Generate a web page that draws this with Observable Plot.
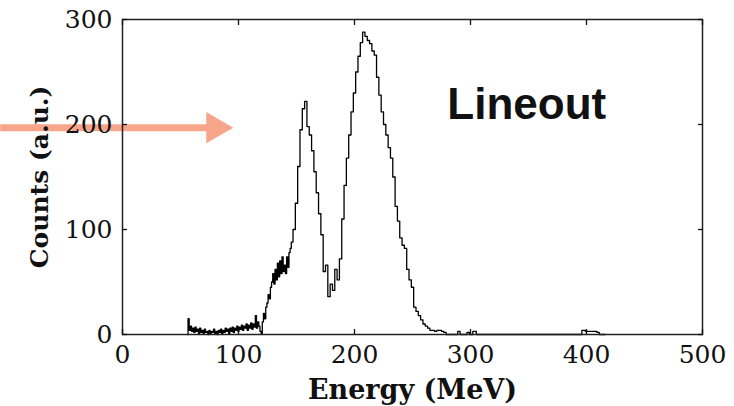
<!DOCTYPE html>
<html>
<head>
<meta charset="utf-8">
<script src="https://cdn.jsdelivr.net/npm/d3@7"></script>
<script src="https://cdn.jsdelivr.net/npm/@observablehq/plot@0.6"></script>
<style>
  html, body { margin: 0; padding: 0; background: #fff; }
</style>
</head>
<body>
<div id="chart"></div>
<script>
const energy = [
  56, 57, 58, 59, 60, 61, 62, 63, 64, 65, 66, 67, 68, 69, 70, 71, 72, 73, 74, 75,
  76, 77, 78, 79, 80, 81, 82, 83, 84, 85, 86, 87, 88, 89, 90, 91, 92, 93, 94, 95,
  96, 97, 98, 99, 100, 101, 102, 103, 104, 105, 106, 107, 108, 109, 110, 111, 112, 113, 114, 115,
  116, 117, 118, 119, 120, 121, 122, 123, 124, 125, 126, 127, 128, 129, 130, 131, 132, 133, 134, 135,
  136, 137, 138, 139, 140, 141, 142, 143, 144, 145, 146, 148, 150, 152, 154, 156, 158, 160, 162, 164,
  166, 168, 170, 172, 174, 176, 178, 180, 182, 184, 186, 188, 190, 192, 194, 196, 198, 200, 202, 204,
  206, 208, 210, 212, 214, 216, 218, 220, 222, 224, 226, 228, 230, 232, 234, 236, 238, 240, 242, 244,
  246, 248, 250, 252, 254, 256, 258, 260, 262, 264, 266, 268, 270, 272, 274, 276, 278, 280, 284, 288,
  290, 292, 296, 298, 300, 304, 306, 310, 394, 398, 400, 404, 408, 410, 412, 416
];
const counts = [
  0, 15, 4, 8, 3, 6, 2, 7, 3, 5, 1, 6, 2, 4, 1, 5, 2, 3, 0, 4,
  1, 3, 2, 5, 1, 3, 0, 4, 2, 5, 1, 4, 2, 6, 3, 5, 1, 6, 3, 7,
  2, 6, 4, 8, 3, 7, 5, 9, 4, 8, 6, 10, 4, 9, 6, 11, 5, 10, 7, 18,
  6, 12, 8, 3, 1, 12, 20, 15, 26, 30, 38, 34, 45, 50, 58, 48, 62, 52, 68, 55,
  70, 58, 74, 60, 66, 58, 74, 64, 78, 82, 88, 100, 125, 160, 195, 215, 222, 198, 190, 175,
  155, 135, 115, 95, 60, 66, 36, 48, 42, 62, 52, 72, 110, 142, 168, 190, 212, 230, 250, 265,
  278, 288, 284, 280, 277, 270, 266, 245, 228, 212, 200, 190, 178, 168, 150, 122, 108, 92, 85, 82,
  62, 52, 45, 26, 22, 18, 14, 10, 8, 6, 4, 4, 3, 4, 4, 3, 2, 0, 0, 0,
  3, 0, 0, 2, 0, 3, 0, 0, 0, 4, 3, 3, 3, 2, 0, 0
];
const xTicks = [0, 100, 200, 300, 400, 500];
const yTicks = [0, 100, 200, 300];
const xLabel = "Energy (MeV)";
const yLabel = "Counts (a.u.)";
const annotationText = ["Lineout"];
const annotationEnergy = [280];
const annotationCounts = [205];
const arrowEnergyStart = [-105];
const arrowEnergyEnd = [80];
const arrowCounts = [197];

const data = energy.map((e, i) => ({energy: e, counts: counts[i]}));
const arrow = arrowCounts.map((c, i) => ({x1: arrowEnergyStart[i], x2: arrowEnergyEnd[i], y: c}));
const notes = annotationText.map((t, i) => ({text: t, x: annotationEnergy[i], y: annotationCounts[i]}));

const serif = "'DejaVu Serif', serif";
const arrowColor = "#f7a68c";
const blank = () => "";

const chart = Plot.plot({
  width: 734,
  height: 406,
  marginLeft: 122,
  marginRight: 32,
  marginTop: 19,
  marginBottom: 72,
  style: {fontFamily: serif, fontSize: "25px", color: "#111", background: "#fff"},
  x: {domain: [0, 500]},
  y: {domain: [0, 300]},
  marks: [
    // orange arrow (under the frame)
    Plot.ruleY(arrow, {y: "y", x1: "x1", x2: "x2", stroke: arrowColor, strokeWidth: 7}),
    Plot.dot(arrow, {x: "x2", y: "y", symbol: "triangle", r: 11.6, rotate: 90, fill: arrowColor, stroke: "none"}),
    Plot.line(data, {x: "energy", y: "counts", stroke: "#000", strokeWidth: 1.3, curve: "step"}),
    Plot.frame({stroke: "#222", strokeWidth: 1.5}),
    Plot.axisX({ticks: xTicks, tickSize: -5, tickPadding: 16, label: null, strokeWidth: 1.3}),
    Plot.axisX({anchor: "top", ticks: xTicks, tickSize: -5, tickFormat: blank, label: null, strokeWidth: 1.3}),
    Plot.axisY({ticks: yTicks, tickSize: -5, tickPadding: 15, label: null, strokeWidth: 1.3}),
    Plot.axisY({anchor: "right", ticks: yTicks, tickSize: -5, tickFormat: blank, label: null, strokeWidth: 1.3}),
    Plot.text([xLabel], {frameAnchor: "bottom", dy: 56, textAnchor: "middle", lineAnchor: "middle", fontWeight: "bold", fontSize: 27, fontFamily: serif, fill: "#111"}),
    Plot.text([yLabel], {frameAnchor: "left", dx: -83, textAnchor: "middle", lineAnchor: "middle", rotate: -90, fontWeight: "bold", fontSize: 25, fontFamily: serif, fill: "#111"}),
    Plot.text(notes, {x: "x", y: "y", text: "text", textAnchor: "start", lineAnchor: "bottom", fontFamily: "'Liberation Sans', Arial, sans-serif", fontWeight: "bold", fontSize: 44, fill: "#111"})
  ]
});
document.getElementById("chart").appendChild(chart);
</script>
</body>
</html>
